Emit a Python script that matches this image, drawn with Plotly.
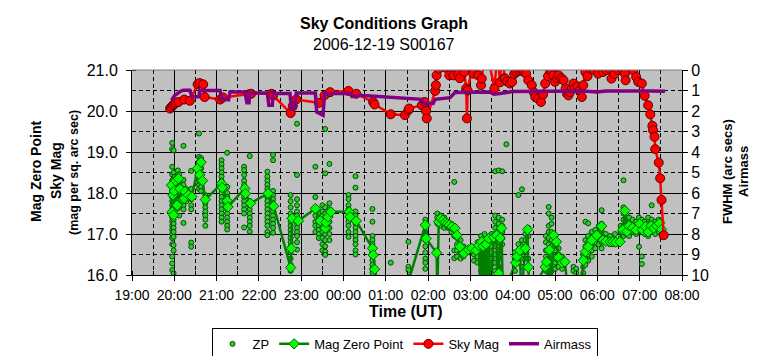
import plotly.graph_objects as go

# ---------------- data ----------------
x_tick_labels = ["19:00", "20:00", "21:00", "22:00", "23:00", "00:00", "01:00",
                 "02:00", "03:00", "04:00", "05:00", "06:00", "07:00", "08:00"]
left_ticks = [16.0, 17.0, 18.0, 19.0, 20.0, 21.0]
right_ticks = [0, 1, 2, 3, 4, 5, 6, 7, 8, 9, 10]

# Airmass (right axis)
air_time = ["19:56", "20:01", "20:10", "20:13", "20:22", "20:25", "20:35", "20:36", "21:05", "21:07",
            "21:17", "21:19", "21:40", "21:43", "21:46", "21:47", "22:12", "22:14", "22:19", "22:20",
            "22:44", "22:46", "22:51", "22:53", "23:20", "23:22", "23:31", "23:33", "00:09", "00:12",
            "00:23", "00:42", "01:06", "01:25", "01:51", "01:53", "02:07", "02:10", "02:31", "02:38",
            "03:09", "03:28", "03:33", "03:42", "03:59", "05:02", "05:40", "05:59", "06:13", "07:15",
            "07:36"]
air_mass = [1.48, 1.23, 1.02, 0.99, 0.99, 1.31, 1.31, 1.00, 1.00, 1.40,
            1.45, 1.07, 1.07, 1.60, 1.60, 1.12, 1.12, 1.72, 1.72, 1.15,
            1.15, 1.88, 1.88, 1.12, 1.12, 2.05, 2.21, 1.15, 1.15, 1.30,
            1.23, 1.28, 1.31, 1.35, 1.43, 1.64, 1.64, 1.43, 1.35, 1.10,
            1.10, 1.07, 1.18, 1.15, 1.05, 1.02, 1.02, 1.07, 1.02, 1.02,
            1.04]

# Sky Mag (left axis)
sky_time = ["19:54", "19:56", "19:58", "20:00", "20:02", "20:06", "20:14", "20:22", "20:33", "20:36",
            "20:41", "20:43", "21:05", "21:09", "21:46", "21:49", "22:18", "22:20", "22:45", "22:48",
            "22:53", "23:25", "23:33", "23:41", "00:07", "00:18", "00:42", "00:44", "01:07", "01:27",
            "01:32", "01:33", "01:51", "01:55", "01:57", "01:58", "02:10", "02:11", "02:12", "02:15",
            "02:20", "02:24", "02:30", "02:34", "02:36", "02:38", "02:40", "02:43", "02:45", "02:51",
            "02:54", "02:55", "02:56", "03:02", "03:04", "03:08", "03:11", "03:15", "03:16", "03:20",
            "03:24", "03:34", "03:38", "03:42", "03:44", "03:48", "03:49", "03:52", "03:56", "03:59",
            "04:02", "04:05", "04:09", "04:13", "04:16", "04:19", "04:22", "04:27", "04:30", "04:32",
            "04:36", "04:40", "04:43", "04:46", "04:50", "04:53", "04:56", "04:58", "05:00", "05:03",
            "05:05", "05:09", "05:12", "05:15", "05:17", "05:19", "05:21", "05:24", "05:26", "05:28",
            "05:32", "05:35", "05:38", "05:40", "05:43", "05:46", "05:50", "05:52", "05:55", "05:58",
            "06:01", "06:04", "06:08", "06:13", "06:18", "06:20", "06:24", "06:30", "06:35", "06:37",
            "06:39", "06:40", "06:44", "06:51", "06:55", "06:58", "07:03", "07:07", "07:12", "07:15",
            "07:18", "07:19", "07:21", "07:22", "07:27", "07:29", "07:31", "07:34"]
sky_mag = [20.06, 20.10, 20.14, 20.17, 20.20, 20.22, 20.28, 20.25, 20.65, 20.68,
           20.65, 20.34, 20.28, 20.33, 20.41, 20.42, 20.42, 20.38, 19.95, 20.12,
           20.28, 20.20, 20.38, 20.46, 20.49, 20.42, 20.22, 20.16, 19.92, 19.90,
           20.02, 20.06, 20.14, 20.22, 20.00, 19.82, 20.49, 20.63, 20.87, 21.03,
           21.30, 21.06, 20.87, 21.40, 20.87, 21.07, 21.40, 20.91, 20.80, 20.95,
           20.55, 19.82, 20.50, 21.03, 20.91, 21.40, 20.87, 20.63, 20.79, 21.40,
           21.40, 20.55, 21.40, 20.70, 21.40, 20.80, 20.79, 20.72, 20.67, 20.71,
           20.90, 20.95, 20.98, 20.99, 20.95, 20.91, 20.75, 20.63, 20.45, 20.34,
           20.30, 20.22, 20.40, 20.67, 20.85, 20.99, 20.95, 20.87, 20.71, 20.80,
           20.87, 20.80, 20.75, 20.55, 20.42, 20.38, 20.46, 20.55, 20.67, 20.55,
           20.60, 20.50, 20.34, 20.63, 20.95, 20.85, 21.03, 21.40, 21.00, 21.40,
           20.91, 21.40, 20.95, 21.00, 21.03, 20.79, 20.90, 21.00, 21.02, 21.40,
           20.91, 20.75, 21.40, 20.99, 20.83, 20.71, 20.67, 20.37, 20.14, 19.92,
           19.64, 19.53, 19.37, 19.07, 18.74, 18.36, 17.83, 16.97]

# Mag Zero Point (left axis); values below 16 run off the bottom of the chart
mzp_time = ["19:56", "19:57", "19:58", "19:59", "20:00", "20:02", "20:04", "20:06", "20:08", "20:12",
            "20:14", "20:15", "20:20", "20:25", "20:33", "20:36", "20:38", "20:40", "20:44", "21:07",
            "21:08", "21:15", "21:16", "21:40", "21:41", "21:48", "22:13", "22:21", "22:45", "22:46",
            "22:47", "22:56", "23:20", "23:27", "23:34", "23:35", "23:38", "23:42", "00:08", "00:09",
            "00:18", "00:41", "00:42", "00:44", "00:50", "01:33", "01:56", "01:57", "02:12", "02:13",
            "02:15", "02:18", "02:21", "02:24", "02:27", "02:30", "02:34", "02:38", "02:41", "02:45",
            "02:51", "02:57", "03:02", "03:08", "03:12", "03:14", "03:16", "03:18", "03:19", "03:22",
            "03:24", "03:26", "03:28", "03:33", "03:37", "03:38", "03:40", "03:42", "03:44", "03:46",
            "04:04", "04:06", "04:10", "04:12", "04:18", "04:21", "04:22", "04:24", "04:46", "04:48",
            "04:50", "04:52", "04:54", "04:58", "05:02", "05:05", "05:10", "05:14", "05:18", "05:38",
            "05:40", "05:43", "05:47", "05:52", "05:59", "06:06", "06:08", "06:12", "06:18", "06:22",
            "06:26", "06:32", "06:36", "06:39", "06:42", "06:45", "06:50", "06:55", "07:00", "07:04",
            "07:08", "07:12", "07:16", "07:20", "07:24", "07:28", "07:31"]
mzp_mag = [18.19, 17.54, 17.95, 17.46, 18.05, 18.30, 17.70, 18.35, 18.10, 17.85,
           17.87, 18.03, 17.95, 17.91, 18.60, 18.44, 18.75, 18.30, 17.84, 18.23,
           18.13, 17.81, 17.66, 18.11, 17.99, 17.75, 17.99, 17.68, 16.18, 16.65,
           17.38, 17.32, 17.62, 17.32, 17.14, 17.28, 17.42, 17.54, 17.54, 17.42,
           17.32, 16.65, 16.49, 16.14, 15.50, 15.90, 17.22, 16.89, 16.54, 15.50,
           17.30, 17.38, 17.34, 17.28, 17.25, 17.22, 17.18, 17.14, 16.97, 16.69,
           16.53, 16.62, 16.65, 16.60, 16.72, 15.50, 16.81, 16.70, 15.50, 16.75,
           15.50, 16.89, 15.50, 16.92, 16.97, 15.50, 16.04, 16.90, 17.14, 15.50,
           16.30, 16.45, 16.60, 15.50, 16.65, 17.11, 16.19, 15.50, 16.20, 16.32,
           15.50, 16.61, 15.50, 16.97, 16.81, 16.43, 16.30, 16.32, 15.60, 15.90,
           16.36, 16.57, 16.69, 16.85, 16.97, 17.19, 16.85, 16.82, 16.81, 16.81,
           16.80, 16.81, 17.10, 17.57, 17.06, 17.20, 17.15, 17.10, 17.25, 17.10,
           17.18, 17.05, 17.20, 17.14, 17.20, 17.26, 17.11]

# ZP individual readings: one time per column of readings
zp_time = ["19:57", "19:59", "20:01", "20:05", "20:07", "20:13", "20:17", "20:24", "20:35", "20:38",
           "20:44", "21:07", "21:15", "21:39", "21:47", "22:12", "22:20", "22:45", "22:54", "23:20",
           "23:25", "23:30", "23:34", "23:40", "00:07", "00:17", "00:41", "01:07", "01:32", "01:56",
           "02:13", "02:18", "02:23", "02:28", "02:33", "02:37", "02:41", "02:46", "02:50", "03:05",
           "03:10", "03:15", "03:20", "03:30", "03:35", "03:40", "03:45", "03:51", "04:03", "04:08",
           "04:13", "04:18", "04:22", "04:47", "04:51", "04:55", "05:00", "05:05", "05:10", "05:26",
           "05:30", "05:40", "05:43", "05:47", "05:52", "05:57", "06:02", "06:06", "06:12", "06:18",
           "06:25", "06:33", "06:37", "06:41", "06:45", "06:50", "06:55", "06:59", "07:03", "07:07",
           "07:12", "07:17", "07:22", "07:27", "07:31"]
zp_mag = [
    [19.22, 19.07, 18.64, 18.45, 18.3, 18.2, 18.1, 18.0, 17.9, 17.8, 17.7, 17.6, 17.5, 17.4, 17.3, 17.2,
     17.1, 17.0, 16.9, 16.75, 16.45, 16.28, 16.12],                                   # 19:57
    [19.04, 18.5, 18.35, 18.25, 18.15, 18.05, 17.95, 17.85, 17.75, 17.65, 17.55, 17.45, 17.35, 17.25,
     17.15, 17.05, 16.93, 16.73, 16.6, 16.04],                                        # 19:59
    [18.4, 18.3, 18.2, 18.1, 17.9, 17.8, 17.7, 17.6],                                 # 20:01
    [18.55, 18.45, 18.35, 18.25, 18.15, 18.05, 17.95, 17.85, 17.75, 17.62],           # 20:05
    [18.45, 18.3, 18.15, 18.0, 17.85, 17.7, 17.45],                                   # 20:07
    [19.15, 18.32, 18.2, 18.1, 18.0, 17.9, 17.8, 17.7, 17.6, 17.27],                  # 20:13
    [18.1, 17.95, 17.8],                                                              # 20:17
    [18.54, 18.1, 17.85, 17.7, 17.6, 16.79, 16.69],                                   # 20:24
    [19.45, 18.88, 18.76, 18.64, 18.52, 18.4, 18.3, 18.2, 18.1],                      # 20:35
    [18.85, 18.7, 18.6, 18.48, 18.38, 18.25, 18.15, 18.05],                           # 20:38
    [17.95, 17.85, 17.75, 17.65, 17.55, 17.45, 17.35, 17.2],                          # 20:44
    [18.8, 18.7, 18.6, 18.5, 18.4, 18.3, 18.2, 18.1, 18.0, 17.9, 17.8, 17.7, 17.6, 17.5, 17.4, 17.3],  # 21:07
    [18.98, 18.15, 18.0, 17.9, 17.8, 17.7, 17.6, 17.5, 17.4, 17.3, 17.2, 17.11],      # 21:15
    [18.64, 18.56, 18.44, 18.3, 18.2, 18.1, 18.0, 17.9, 17.8, 17.7, 17.6, 17.5, 17.16],  # 21:39
    [18.9, 17.8, 17.7, 17.6, 17.5, 17.4, 17.3, 17.2, 17.06],                          # 21:47
    [18.52, 18.4, 18.3, 18.2, 18.1, 18.0, 17.9, 17.8, 17.7, 17.6, 17.5, 17.4, 17.3, 17.2, 17.05, 16.97],  # 22:12
    [18.93, 18.8, 18.05, 17.95, 17.85, 17.75, 17.65, 17.55, 17.45, 17.35, 17.25, 17.15, 17.03],  # 22:20
    [17.95, 17.8, 17.65, 17.5, 17.4, 17.3, 17.2, 17.1, 17.0, 16.9, 16.8, 16.7, 16.55, 16.4, 16.25, 16.1],  # 22:45
    [19.69, 18.44, 17.85, 17.7, 17.55, 17.45, 17.35, 17.25, 17.15, 17.05, 16.95, 16.8, 16.62],  # 22:54
    [18.64, 17.9, 17.6, 17.45, 17.3, 17.2, 17.05],                                    # 23:20
    [17.5, 17.4, 17.3, 17.2, 17.1, 17.0, 16.9],                                       # 23:25
    [17.7, 17.55, 17.45, 17.35, 17.2, 17.05, 16.9, 16.75, 16.6],                      # 23:30
    [19.56, 18.48, 17.65, 17.5, 17.35, 17.2, 17.0, 16.85, 16.7, 16.57, 16.49],        # 23:34
    [18.71, 17.75, 17.6, 17.45, 17.3, 17.15, 17.0, 16.85],                            # 23:40
    [17.95, 17.85, 17.7, 17.6, 17.5, 17.4, 17.3, 17.2, 17.05, 16.93],                 # 00:07
    [18.41, 18.13, 17.55, 17.45, 17.35, 17.25, 17.15, 17.05, 16.95, 16.85, 16.75, 16.6, 16.5],  # 00:17
    [17.61, 17.3, 16.95, 16.85, 16.75, 16.65, 16.55, 16.45, 16.35, 16.25, 16.15, 16.05],  # 00:41
    [16.3],                                                                           # 01:07
    [16.81, 16.2, 16.12],                                                             # 01:32
    [17.35, 17.2, 17.05, 16.95, 16.85, 16.7, 16.55, 16.4, 16.3, 16.15],               # 01:56
    [17.5, 17.4, 17.3, 17.25],                                                        # 02:13
    [17.45, 17.35, 17.25, 17.2],                                                      # 02:18
    [17.4, 17.3, 17.2, 17.15],                                                        # 02:23
    [17.3, 17.25, 17.15],                                                             # 02:28
    [17.25, 17.15, 17.05],                                                            # 02:33
    [18.27, 17.2, 17.1, 16.95, 16.6, 16.41],                                          # 02:37
    [17.0, 16.9, 16.75, 16.6, 16.45],                                                 # 02:41
    [16.85, 16.7, 16.55, 16.4],                                                       # 02:46
    [16.7, 16.55, 16.45],                                                             # 02:50
    [16.65, 16.5, 16.35],                                                             # 03:05
    [16.8, 16.6, 16.45, 16.3],                                                        # 03:10
    [16.95, 16.8, 16.65, 16.5, 16.3, 16.1],                                           # 03:15
    [17.0, 16.85, 16.7, 16.55, 16.4, 16.2, 16.05],                                    # 03:20
    [17.0, 16.85, 16.7, 16.55, 16.4, 16.25],                                          # 03:30
    [18.53, 17.45, 17.3, 17.15, 17.0, 16.85, 16.7, 16.5, 16.3, 16.1],                 # 03:35
    [18.55, 17.4, 17.25, 17.1, 16.95, 16.8, 16.6, 16.4, 16.2],                        # 03:40
    [18.53, 17.35, 17.2, 17.05, 16.9, 16.75],                                         # 03:45
    [19.19],                                                                          # 03:51
    [16.55, 16.4, 16.25, 16.1],                                                       # 04:03
    [17.95, 16.75, 16.6, 16.45, 16.3],                                                # 04:08
    [18.09, 16.85, 16.7, 16.55, 16.4, 16.2],                                          # 04:13
    [17.0, 16.85, 16.7, 16.55, 16.4],                                                 # 04:18
    [17.15, 16.95, 16.4, 16.2],                                                       # 04:22
    [16.95, 16.8, 16.6, 16.45, 16.3, 16.1],                                           # 04:47
    [17.66, 17.5, 17.2, 17.05, 16.9, 16.75, 16.6, 16.4, 16.2],                        # 04:51
    [17.4, 17.25, 17.05, 16.85, 16.7, 16.5, 16.3, 16.1],                              # 04:55
    [16.9, 16.75, 16.6, 16.45, 16.3, 16.15],                                          # 05:00
    [16.65, 16.5, 16.35, 16.2],                                                       # 05:05
    [16.45, 16.3, 16.15],                                                             # 05:10
    [16.2, 16.1],                                                                     # 05:26
    [16.15, 16.05],                                                                   # 05:30
    [16.5, 16.35, 16.2, 16.05],                                                       # 05:40
    [17.3, 16.85, 16.7, 16.55, 16.4, 16.25],                                          # 05:43
    [17.26, 16.95, 16.8, 16.65, 16.5, 16.35],                                         # 05:47
    [17.05, 16.9, 16.75, 16.6, 16.45],                                                # 05:52
    [17.1, 16.95, 16.8, 16.65],                                                       # 05:57
    [17.2, 17.05, 16.9, 16.75],                                                       # 06:02
    [17.58, 17.25, 17.1, 16.95, 16.8, 16.65],                                         # 06:06
    [17.0, 16.9, 16.8],                                                               # 06:12
    [16.95, 16.85, 16.75],                                                            # 06:18
    [17.0, 16.85, 16.75],                                                             # 06:25
    [17.2, 17.05, 16.9],                                                              # 06:33
    [18.31, 17.65, 17.5, 17.35, 17.2, 17.05, 16.95],                                  # 06:37
    [17.45, 17.3, 17.15, 17.0],                                                       # 06:41
    [17.4, 17.25, 17.1, 16.95],                                                       # 06:45
    [17.35, 17.2, 17.05],                                                             # 06:50
    [17.3, 17.15, 17.0],                                                              # 06:55
    [17.4, 17.25, 17.1, 16.69],                                                       # 06:59
    [17.35, 17.2, 17.05, 16.45, 16.27],                                               # 07:03
    [17.3, 17.15, 17.0],                                                              # 07:07
    [17.4, 17.25, 17.1, 16.95],                                                       # 07:12
    [17.7, 17.35, 17.2, 17.05],                                                       # 07:17
    [17.3, 17.15, 17.0],                                                              # 07:22
    [17.35, 17.2, 17.05],                                                             # 07:27
    [17.83, 17.3, 17.15, 17.0],                                                       # 07:31
]

# ---------------- helpers ----------------
def to_dt(hhmm):
    day = "2006-12-19" if int(hhmm[:2]) >= 12 else "2006-12-20"
    return f"{day} {hhmm}:00"

assert len(zp_time) == len(zp_mag)
assert len(sky_time) == len(sky_mag)
assert len(mzp_time) == len(mzp_mag)
assert len(air_time) == len(air_mass)

zp_x, zp_y = [], []
for t, vals in zip(zp_time, zp_mag):
    for v in vals:
        zp_x.append(to_dt(t))
        zp_y.append(v)

FONT = "Arial, 'Liberation Sans', sans-serif"

fig = go.Figure()
fig.add_trace(go.Scatter(
    x=zp_x, y=zp_y, name="ZP", mode="markers",
    marker=dict(size=5, color="#2ECC2E", line=dict(color="#005000", width=1)),
))
fig.add_trace(go.Scatter(
    x=[to_dt(t) for t in mzp_time], y=mzp_mag, name="Mag Zero Point", mode="lines+markers",
    line=dict(color="#008000", width=2.5),
    marker=dict(symbol="diamond", size=8, color="#00FF00", line=dict(color="#006000", width=1)),
))
fig.add_trace(go.Scatter(
    x=[to_dt(t) for t in sky_time], y=sky_mag, name="Sky Mag", mode="lines+markers",
    line=dict(color="#FF0000", width=2.5),
    marker=dict(symbol="circle", size=9, color="#FF0000", line=dict(color="#600000", width=1)),
))
fig.add_trace(go.Scatter(
    x=[to_dt(t) for t in air_time], y=air_mass, name="Airmass", mode="lines", yaxis="y2",
    line=dict(color="#800080", width=3.5),
))

# The page body has an 8px margin, so the figure is 8px smaller and shifted accordingly.
grid_dash = "4px,3px"
fig.update_layout(
    width=757, height=348,
    margin=dict(l=124, r=83, t=62, b=81, pad=0, autoexpand=False),
    paper_bgcolor="white", plot_bgcolor="#C0C0C0",
    font=dict(family=FONT, color="black", size=14),
    showlegend=True,
    legend=dict(orientation="h", x=0.4955, xanchor="center", y=-0.258, yanchor="top",
                bgcolor="white", bordercolor="black", borderwidth=1,
                font=dict(size=13, family=FONT), itemwidth=30, tracegroupgap=0),
    xaxis=dict(
        type="date",
        range=[to_dt("19:00"), to_dt("08:00")],
        tickmode="array", tickvals=[to_dt(l) for l in x_tick_labels], ticktext=x_tick_labels,
        showgrid=True, gridcolor="black", gridwidth=1,
        showline=True, linecolor="black", linewidth=1,
        ticks="outside", ticklen=5, tickcolor="black",
        tickfont=dict(size=14, family=FONT), ticklabelstandoff=2,
        minor=dict(tickmode="linear", dtick=1800000, tick0=to_dt("19:00"),
                   showgrid=True, gridcolor="black", griddash=grid_dash, gridwidth=1,
                   ticks="inside", ticklen=4, tickcolor="black"),
        zeroline=False,
    ),
    yaxis=dict(
        range=[16, 21], tickmode="array", tickvals=left_ticks,
        ticktext=[f"{v:.1f}" for v in left_ticks],
        showgrid=True, gridcolor="black", gridwidth=1,
        showline=True, linecolor="black", linewidth=1,
        ticks="outside", ticklen=5, tickcolor="black",
        tickfont=dict(size=16, family=FONT), ticklabelstandoff=5,
        minor=dict(tickmode="linear", dtick=0.5, tick0=16,
                   showgrid=True, gridcolor="black", griddash=grid_dash, gridwidth=1,
                   ticks="inside", ticklen=4, tickcolor="black"),
        zeroline=False,
    ),
    yaxis2=dict(
        range=[10, 0], overlaying="y", side="right",
        tickmode="array", tickvals=right_ticks, ticktext=[str(v) for v in right_ticks],
        showgrid=False, showline=True, linecolor="black", linewidth=1,
        ticks="outside", ticklen=5, tickcolor="black",
        tickfont=dict(size=16, family=FONT), zeroline=False,
    ),
)

# plot-area top border
fig.add_shape(type="line", xref="paper", yref="paper", x0=0, x1=1, y0=1, y1=1,
              line=dict(color="#808080", width=1))

# positions given in window pixels, converted to plot-area (paper) fractions
def px_x(x):
    return (x - 132) / 550.0

def px_y(y):
    return (275 - y) / 205.0

annotations = [
    dict(text="<b>Sky Conditions Graph</b>", x=px_x(384), y=px_y(23), size=16),
    dict(text="2006-12-19 S00167", x=px_x(384), y=px_y(44), size=16),
    dict(text="<b>Time (UT)</b>", x=px_x(405), y=px_y(311), size=16),
    dict(text="<b>Mag Zero Point</b>", x=px_x(36), y=px_y(171), size=14, angle=-90),
    dict(text="<b>Sky Mag</b>", x=px_x(56), y=px_y(171), size=14, angle=-90),
    dict(text="<b>(mag per sq. arc sec)</b>", x=px_x(74), y=px_y(173), size=12.5, angle=-90),
    dict(text="<b>FWHM (arc secs)</b>", x=px_x(727), y=px_y(172), size=13, angle=-90),
    dict(text="<b>Airmass</b>", x=px_x(743), y=px_y(172), size=13, angle=-90),
]
for a in annotations:
    fig.add_annotation(text=a["text"], x=a["x"], y=a["y"], xref="paper", yref="paper",
                       xanchor="center", yanchor="middle", showarrow=False,
                       textangle=a.get("angle", 0),
                       font=dict(size=a["size"], family=FONT, color="black"))

fig.write_html("out.html")
